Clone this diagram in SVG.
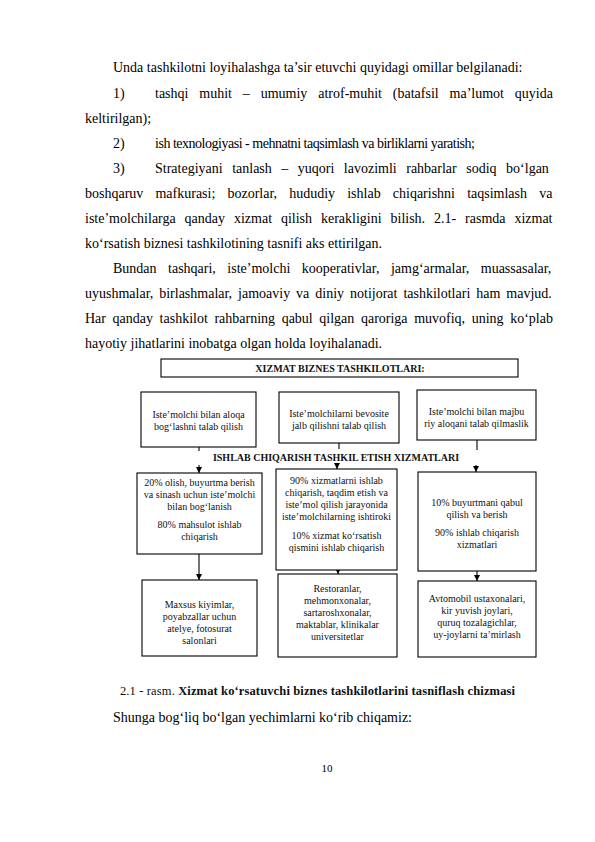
<svg xmlns="http://www.w3.org/2000/svg" width="595" height="842" viewBox="0 0 595 842">
<style>
.body{font-family:"Liberation Serif","Times New Roman",serif;font-size:14px;fill:#000}
.box{fill:#fff;stroke:#000;stroke-width:1.1}
.t{font-family:"Liberation Serif","Times New Roman",serif;font-size:10px;fill:#111;text-anchor:middle}
.h{font-family:"Liberation Serif","Times New Roman",serif;font-size:10px;font-weight:bold;fill:#111;text-anchor:middle}
.ln{stroke:#000;stroke-width:1.1;fill:none}
</style>
<defs>
<marker id="ad" markerUnits="userSpaceOnUse" markerWidth="7" markerHeight="6" refX="3.5" refY="6" viewBox="0 0 7 6">
<path d="M0.5,0 L6.5,0 L3.5,6 Z" fill="#000"/>
</marker>
</defs>
<rect width="595" height="842" fill="#fff"/>

<g id="text-body" class="body">
<text x="113" y="72">Unda tashkilotni loyihalashga ta’sir etuvchi quyidagi omillar belgilanadi:</text>
<text x="113" y="98">1)</text>
<text x="155" y="98" word-spacing="7.36">tashqi muhit – umumiy atrof-muhit (batafsil ma’lumot quyida</text>
<text x="85" y="123">keltirilgan);</text>
<text x="113" y="148">2)</text>
<text x="155" y="148" textLength="320" lengthAdjust="spacing">ish texnologiyasi - mehnatni taqsimlash va birliklarni yaratish;</text>
<text x="113" y="173">3)</text>
<text x="155" y="173" word-spacing="6.0">Strategiyani tanlash – yuqori lavozimli rahbarlar sodiq bo‘lgan</text>
<text x="85" y="198" word-spacing="8.64">boshqaruv mafkurasi; bozorlar, hududiy ishlab chiqarishni taqsimlash va</text>
<text x="85" y="223" word-spacing="5.4">iste’molchilarga qanday xizmat qilish kerakligini bilish. 2.1- rasmda xizmat</text>
<text x="85" y="248">ko‘rsatish biznesi tashkilotining tasnifi aks ettirilgan.</text>
<text x="113" y="273" word-spacing="8.0">Bundan tashqari, iste’molchi kooperativlar, jamg‘armalar, muassasalar,</text>
<text x="85" y="298" word-spacing="2.45">uyushmalar, birlashmalar, jamoaviy va diniy notijorat tashkilotlari ham mavjud.</text>
<text x="85" y="323" word-spacing="3.09">Har qanday tashkilot rahbarning qabul qilgan qaroriga muvofiq, uning ko‘plab</text>
<text x="85" y="348">hayotiy jihatlarini inobatga olgan holda loyihalanadi.</text>
</g>

<g id="connectors">
<line class="ln" x1="199" y1="447" x2="199" y2="451"/>
<line class="ln" x1="339" y1="443" x2="339" y2="449"/>
<line class="ln" x1="477" y1="440" x2="477" y2="450"/>
<line class="ln" x1="199" y1="465" x2="199" y2="473" marker-end="url(#ad)"/>
<line class="ln" x1="337" y1="465" x2="337" y2="469" marker-end="url(#ad)"/>
<line class="ln" x1="476" y1="465" x2="476" y2="472" marker-end="url(#ad)"/>
<line class="ln" x1="199" y1="554" x2="199" y2="580" marker-end="url(#ad)"/>
<line class="ln" x1="338" y1="570" x2="338" y2="574" marker-end="url(#ad)"/>
<line class="ln" x1="477" y1="571" x2="477" y2="581" marker-end="url(#ad)"/>
</g>

<g id="title">
<rect class="box" x="161" y="359" width="357" height="18"/>
<text class="h" x="340" y="371.5">XIZMAT BIZNES TASHKILOTLARI:</text>
</g>

<g id="heading">
<text class="h" x="336" y="460.5">ISHLAB CHIQARISH TASHKIL ETISH XIZMATLARI</text>
</g>

<g id="box1">
<rect class="box" x="141" y="392" width="115" height="55"/>
<text class="t" x="198.5" y="418">Iste’molchi bilan aloqa</text>
<text class="t" x="198.5" y="430">bog‘lashni talab qilish</text>
</g>

<g id="box2">
<rect class="box" x="279" y="392" width="120" height="51"/>
<text class="t" x="339" y="416.5">Iste’molchilarni bevosite</text>
<text class="t" x="339" y="428.5">jalb qilishni talab qilish</text>
</g>

<g id="box3">
<rect class="box" x="417" y="390" width="119" height="50"/>
<text class="t" x="476.5" y="414.5">Iste’molchi bilan majbu</text>
<text class="t" x="476.5" y="426.5">riy aloqani talab qilmaslik</text>
</g>

<g id="boxA">
<rect class="box" x="137" y="473" width="125" height="81"/>
<text class="t" x="199.5" y="485.5">20% olish, buyurtma berish</text>
<text class="t" x="199.5" y="497.5">va sinash uchun iste’molchi</text>
<text class="t" x="199.5" y="509.5">bilan bog‘lanish</text>
<text class="t" x="199.5" y="527.5">80% mahsulot ishlab</text>
<text class="t" x="199.5" y="539.5">chiqarish</text>
</g>

<g id="boxB">
<rect class="box" x="276" y="469" width="121" height="101"/>
<text class="t" x="336.5" y="483.5">90% xizmatlarni ishlab</text>
<text class="t" x="336.5" y="495.5">chiqarish, taqdim etish va</text>
<text class="t" x="336.5" y="507.5">iste’mol qilish jarayonida</text>
<text class="t" x="336.5" y="519.5">iste’molchilarning ishtiroki</text>
<text class="t" x="336.5" y="538.5">10% xizmat ko‘rsatish</text>
<text class="t" x="336.5" y="550.5">qismini ishlab chiqarish</text>
</g>

<g id="boxC">
<rect class="box" x="418" y="472" width="118" height="99"/>
<text class="t" x="477" y="505.5">10% buyurtmani qabul</text>
<text class="t" x="477" y="517.5">qilish va berish</text>
<text class="t" x="477" y="535.5">90% ishlab chiqarish</text>
<text class="t" x="477" y="547.5">xizmatlari</text>
</g>

<g id="boxD">
<rect class="box" x="142" y="580" width="115" height="76"/>
<text class="t" x="199.5" y="607.5">Maxsus kiyimlar,</text>
<text class="t" x="199.5" y="619.5">poyabzallar uchun</text>
<text class="t" x="199.5" y="631.5">atelye, fotosurat</text>
<text class="t" x="199.5" y="643.5">salonlari</text>
</g>

<g id="boxE">
<rect class="box" x="278" y="574" width="119" height="83"/>
<text class="t" x="337.5" y="591.5">Restoranlar,</text>
<text class="t" x="337.5" y="603.5">mehmonxonalar,</text>
<text class="t" x="337.5" y="615.5">sartaroshxonalar,</text>
<text class="t" x="337.5" y="627.5">maktablar, klinikalar</text>
<text class="t" x="337.5" y="639.5">universitetlar</text>
</g>

<g id="boxF">
<rect class="box" x="418" y="581" width="118" height="76"/>
<text class="t" x="477" y="601.5">Avtomobil ustaxonalari,</text>
<text class="t" x="477" y="613.5">kir yuvish joylari,</text>
<text class="t" x="477" y="625.5">quruq tozalagichlar,</text>
<text class="t" x="477" y="637.5">uy-joylarni ta’mirlash</text>
</g>

<g id="caption">
<text x="120" y="695" font-family="Liberation Serif, Times New Roman, serif" font-size="12.5" fill="#111" textLength="395" lengthAdjust="spacing">2.1 - rasm. <tspan font-weight="bold">Xizmat ko‘rsatuvchi biznes tashkilotlarini tasniflash chizmasi</tspan></text>
</g>

<g id="text-after" class="body">
<text x="113" y="722">Shunga bog‘liq bo‘lgan yechimlarni ko‘rib chiqamiz:</text>
<text x="327" y="772" font-size="11" text-anchor="middle">10</text>
</g>
</svg>
